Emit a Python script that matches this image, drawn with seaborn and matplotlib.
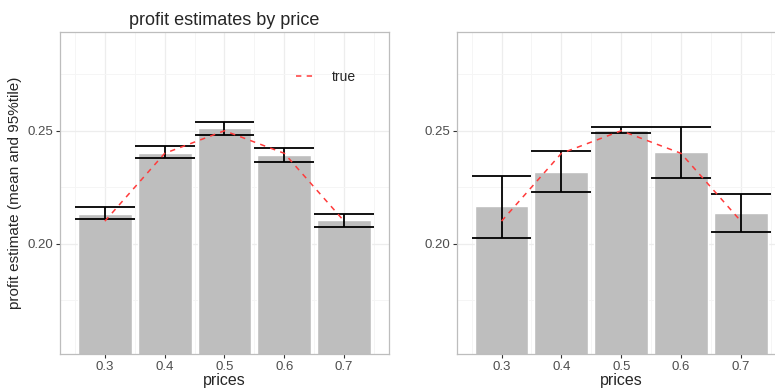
import numpy as np
import pandas as pd
import seaborn as sns
import matplotlib
import matplotlib.pyplot as plt

matplotlib.use("Agg")

# Data
prices = [0.3, 0.4, 0.5, 0.6, 0.7]
true_profit = [0.21, 0.24, 0.25, 0.24, 0.21]

left_mean = [0.2131, 0.2401, 0.2511, 0.2392, 0.2104]
left_upper = [0.2162, 0.2434, 0.2537, 0.2422, 0.2131]
left_lower = [0.2109, 0.2378, 0.2481, 0.2363, 0.2075]

right_mean = [0.2166, 0.2316, 0.2502, 0.2406, 0.2136]
right_upper = [0.2300, 0.2409, 0.2515, 0.2517, 0.2219]
right_lower = [0.2027, 0.2229, 0.2490, 0.2293, 0.2050]

tick_labels = ["0.3", "0.4", "0.5", "0.6", "0.7"]

sns.set_theme(style="white")
plt.rcParams["font.family"] = ["Liberation Sans", "DejaVu Sans"]

BAR = "#BEBEBE"
GRID = "#EDEDED"
BORDER = "#BDBDBD"
TEXT = "#4D4D4D"


def draw_panel(ax, mean, upper, lower, show_legend):
    df = pd.DataFrame({"prices": prices, "estimate": mean})
    sns.barplot(data=df, x="prices", y="estimate", native_scale=True,
                color=BAR, saturation=1, width=0.9, ax=ax, zorder=2)

    # error bars: stems and caps in data units
    ax.vlines(prices, lower, upper, color="black", lw=1.3, zorder=3)
    px = np.array(prices)
    ax.hlines(upper, px - 0.05, px + 0.05, color="black", lw=1.3, zorder=3)
    ax.hlines(lower, px - 0.05, px + 0.05, color="black", lw=1.3, zorder=3)

    sns.lineplot(x=prices, y=true_profit, ax=ax, color="#FF3B3B",
                 linestyle=(0, (3.5, 3.5)), lw=1.1, label="true", zorder=4,
                 legend=show_legend)

    ax.set_xlim(0.225, 0.775)
    ax.set_ylim(0.1512, 0.2937)
    ax.set_xticks(prices)
    ax.set_xticklabels(tick_labels)
    ax.set_xticks([0.25, 0.35, 0.45, 0.55, 0.65, 0.75], minor=True)
    ax.set_yticks([0.20, 0.25])
    ax.set_yticklabels(["0.20", "0.25"])
    ax.set_yticks([0.175, 0.225, 0.275], minor=True)

    ax.grid(True, which="major", color=GRID, lw=0.9, zorder=0)
    ax.grid(True, which="minor", color="#F5F5F5", lw=0.7, zorder=0)
    ax.set_axisbelow(True)
    for s in ax.spines.values():
        s.set_visible(True)
        s.set_color(BORDER)
        s.set_linewidth(0.9)

    ax.tick_params(axis="both", which="major", length=3, width=0.8,
                   color="#333333", labelcolor=TEXT, labelsize=9.5, pad=2,
                   bottom=True, left=True)
    ax.tick_params(axis="both", which="minor", length=0)
    ax.set_xlabel("prices", fontsize=11.5, labelpad=0)

    if show_legend:
        ax.legend(loc="upper right", bbox_to_anchor=(0.938, 0.92),
                  frameon=False, fontsize=10, handlelength=1.5,
                  handletextpad=1.1)
    elif ax.get_legend() is not None:
        ax.get_legend().remove()


fig = plt.figure(figsize=(7.75, 3.92), dpi=100)
ax1 = fig.add_axes([60 / 775, 38 / 392, 329 / 775, 322 / 392])
ax2 = fig.add_axes([456.7 / 775, 38 / 392, 329 / 775, 322 / 392])

draw_panel(ax1, left_mean, left_upper, left_lower, True)
draw_panel(ax2, right_mean, right_upper, right_lower, False)

ax1.set_title("profit estimates by price", fontsize=13, pad=5)
ax1.set_ylabel("profit estimate (mean and 95%tile)", fontsize=11, labelpad=4)
ax2.set_ylabel("")

fig.savefig("out.png", dpi=100)
